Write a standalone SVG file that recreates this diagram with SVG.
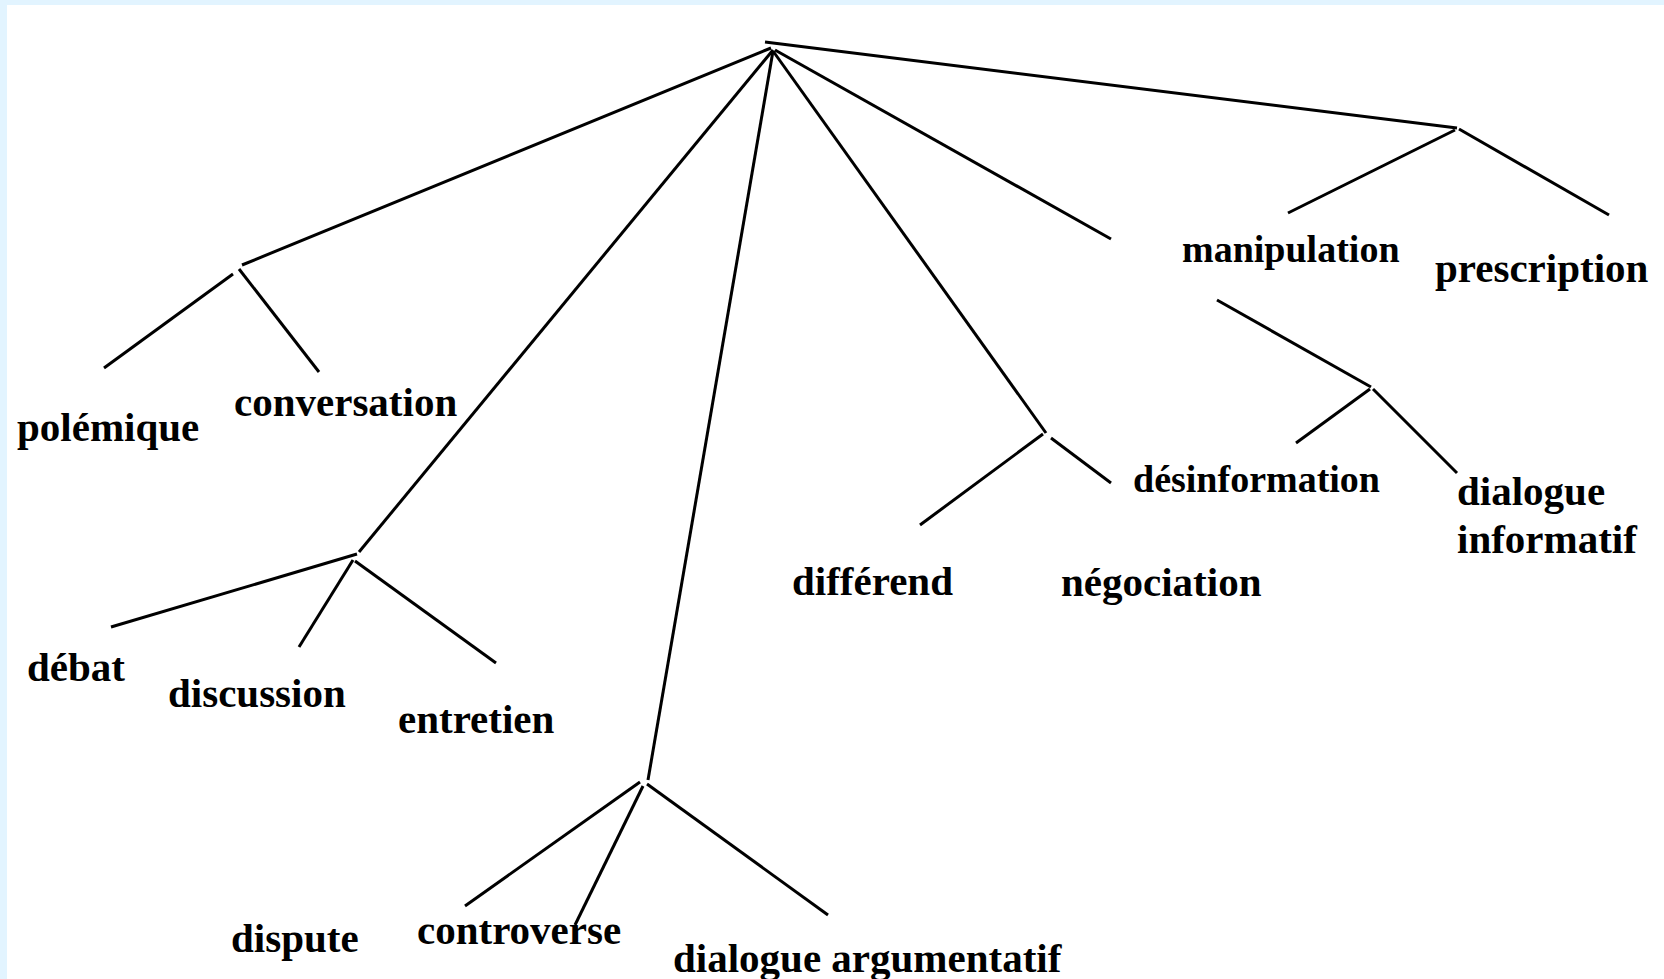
<svg xmlns="http://www.w3.org/2000/svg" width="1664" height="979" viewBox="0 0 1664 979">
<style>
.lbl{font-family:"Liberation Serif","Times New Roman",serif;font-weight:bold;font-size:41px;fill:#000}
.sm{font-size:38px}
.ln{stroke:#000;stroke-width:3;fill:none;stroke-linecap:butt}
</style>
<rect x="0" y="0" width="1664" height="979" fill="#E2F4FF"/>
<rect x="7" y="5" width="1657" height="974" fill="#FFFFFF"/>
<g id="connectors" class="ln">
<line x1="765" y1="42" x2="1457" y2="128"/>
<line x1="771" y1="48" x2="242" y2="265"/>
<line x1="773" y1="50" x2="359" y2="552"/>
<line x1="773" y1="51" x2="648" y2="780"/>
<line x1="773" y1="51" x2="1046" y2="433"/>
<line x1="775" y1="50" x2="1111" y2="239"/>
<line x1="233" y1="274" x2="104" y2="368"/>
<line x1="239" y1="269" x2="319" y2="372"/>
<line x1="357" y1="554" x2="111" y2="627"/>
<line x1="353" y1="560" x2="299" y2="647"/>
<line x1="355" y1="561" x2="496" y2="663"/>
<line x1="640" y1="782" x2="465" y2="906"/>
<line x1="643" y1="786" x2="575" y2="925"/>
<line x1="647" y1="784" x2="828" y2="915"/>
<line x1="1043" y1="434" x2="920" y2="525"/>
<line x1="1051" y1="438" x2="1111" y2="483"/>
<line x1="1455" y1="130" x2="1288" y2="213"/>
<line x1="1459" y1="129" x2="1609" y2="215"/>
<line x1="1217" y1="300" x2="1371" y2="387"/>
<line x1="1370" y1="389" x2="1296" y2="443"/>
<line x1="1373" y1="389" x2="1457" y2="473"/>
</g>
<g id="n-polemique"><text class="lbl" x="17" y="441">polémique</text></g>
<g id="n-conversation"><text class="lbl" x="234" y="416">conversation</text></g>
<g id="n-debat"><text class="lbl" x="27" y="681">débat</text></g>
<g id="n-discussion"><text class="lbl" x="168" y="707">discussion</text></g>
<g id="n-entretien"><text class="lbl" x="398" y="733">entretien</text></g>
<g id="n-dispute"><text class="lbl" x="231" y="952">dispute</text></g>
<g id="n-controverse"><text class="lbl" x="417" y="944">controverse</text></g>
<g id="n-dialogue-argumentatif"><text class="lbl" x="673" y="972">dialogue argumentatif</text></g>
<g id="n-differend"><text class="lbl" x="792" y="595">différend</text></g>
<g id="n-negociation"><text class="lbl" x="1061" y="596">négociation</text></g>
<g id="n-manipulation"><text class="lbl sm" x="1182" y="262">manipulation</text></g>
<g id="n-prescription"><text class="lbl" x="1435" y="282">prescription</text></g>
<g id="n-desinformation"><text class="lbl sm" x="1133" y="492">désinformation</text></g>
<g id="n-dialogue-informatif"><text class="lbl" x="1457" y="505">dialogue</text><text class="lbl" x="1457" y="553">informatif</text></g>
</svg>
